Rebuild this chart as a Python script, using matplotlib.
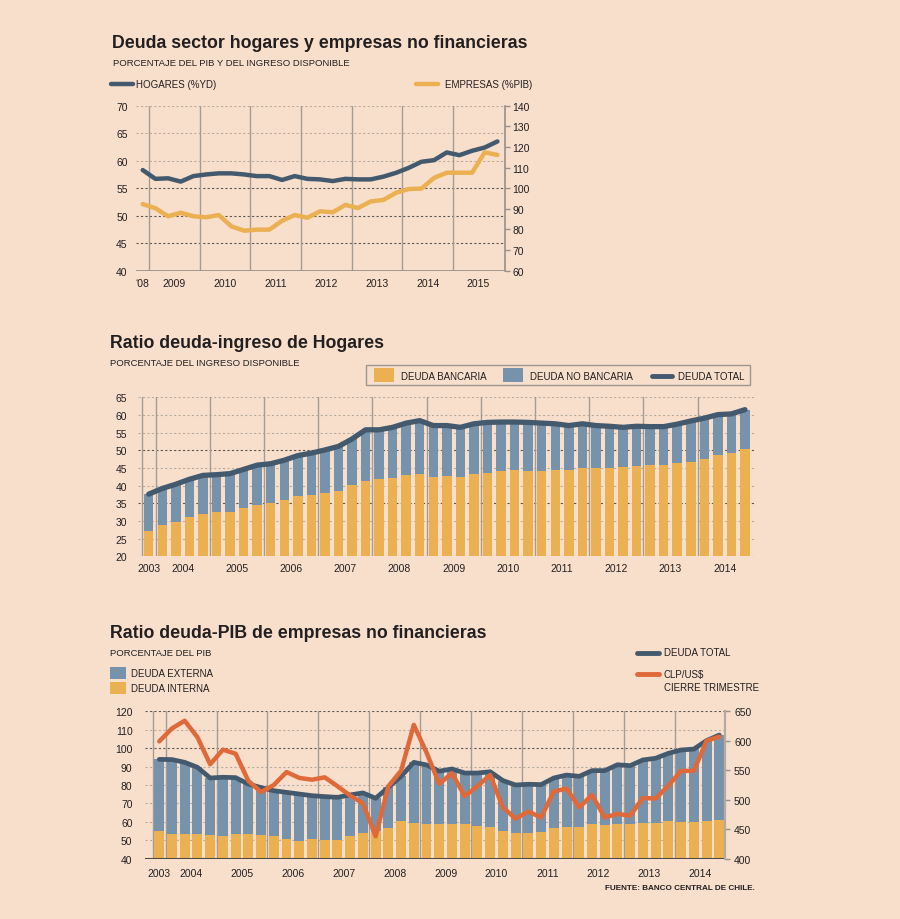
import matplotlib
matplotlib.use('Agg')
import matplotlib.pyplot as plt
from matplotlib.lines import Line2D
from matplotlib.patches import Rectangle

# colours
BG = '#f8dfcc'
DARK = '#43596d'
YELLOW = '#ebb052'
BLUE = '#7792ab'
ORANGE = '#e0693a'
GRID_V = '#a39b94'
GRID_DARK = '#5e5650'
GRID_LIGHT = '#b9ada2'
TXT = '#231f20'

SANS = 'Liberation Sans'
plt.rcParams['font.family'] = [SANS, 'DejaVu Sans']

# ---- data: chart 1 (quarterly, Q4 2008 - Q4 2015)
years1 = ['\u201808', '2009', '2010', '2011', '2012', '2013', '2014', '2015']
hogares = [58.3, 56.7, 56.8, 56.2, 57.2, 57.5, 57.7, 57.7, 57.5, 57.2, 57.2, 56.5, 57.2, 56.7, 56.6,
           56.3, 56.7, 56.6, 56.6, 57.1, 57.8, 58.7, 59.8, 60.1, 61.5, 61.0, 61.8, 62.4, 63.5]
empresas = [92.3, 90.3, 86.4, 88.1, 86.4, 85.9, 87.0, 81.5, 79.4, 79.9, 79.9, 84.2, 87.0, 85.7, 88.8,
            88.3, 91.9, 90.4, 93.6, 94.3, 97.8, 99.6, 99.8, 105.0, 107.5, 107.5, 107.5, 117.4, 116.1]

# ---- data: chart 2 (quarterly, Q4 2003 - Q4 2014)
years2 = [str(y) for y in range(2003, 2015)]
deuda_bancaria = [27.3, 28.9, 29.7, 31.0, 32.0, 32.4, 32.6, 33.8, 34.6, 35.2,
                  35.9, 37.1, 37.3, 38.0, 38.6, 40.2, 41.3, 41.9, 42.2, 43.0,
                  43.3, 42.5, 42.6, 42.5, 43.3, 43.6, 44.2, 44.4, 44.2, 44.2,
                  44.4, 44.4, 44.9, 44.9, 45.1, 45.3, 45.5, 45.7, 45.8, 46.4,
                  46.8, 47.5, 48.8, 49.2, 50.4]
deuda_total_hog = [37.6, 39.2, 40.4, 41.8, 42.9, 43.1, 43.4, 44.6, 45.8, 46.2,
                   47.2, 48.5, 49.2, 50.1, 51.1, 53.2, 55.8, 55.8, 56.5, 57.7,
                   58.4, 57.0, 57.0, 56.5, 57.5, 57.9, 58.0, 58.0, 57.9, 57.7,
                   57.5, 57.0, 57.5, 57.0, 56.8, 56.5, 56.8, 56.7, 56.7, 57.4,
                   58.3, 59.1, 60.1, 60.3, 61.5]

# ---- data: chart 3 (quarterly, Q4 2003 - Q4 2014)
deuda_interna = [55.2, 53.6, 53.6, 53.2, 53.0, 52.5, 53.4, 53.2, 53.0, 52.1,
                 50.7, 49.8, 50.5, 50.0, 50.0, 52.1, 53.9, 55.2, 56.5, 60.5,
                 59.5, 59.0, 59.0, 59.0, 58.6, 57.6, 57.2, 55.2, 54.1, 53.8,
                 54.5, 56.5, 57.4, 57.4, 58.6, 58.1, 59.0, 58.6, 59.5, 59.5,
                 60.3, 59.9, 59.9, 60.6, 60.8]
deuda_total_emp = [93.9, 93.8, 92.3, 89.6, 83.8, 84.2, 84.0, 80.5, 78.6, 76.9,
                   76.0, 75.1, 74.2, 73.7, 73.3, 74.6, 75.7, 72.8, 78.7, 84.7,
                   92.3, 90.9, 87.5, 88.7, 86.5, 86.5, 87.2, 82.4, 80.0, 80.4,
                   80.2, 83.8, 85.4, 84.7, 87.8, 87.8, 91.0, 90.5, 93.6, 94.5,
                   97.2, 99.0, 99.5, 104.1, 107.1]
clp_usd = [599, 621, 634, 606, 560, 585, 578, 532, 513, 525,
           547, 537, 534, 538, 523, 507, 494, 438, 523, 549,
           627, 580, 527, 545, 506, 523, 542, 487, 468, 480,
           470, 514, 519, 487, 508, 470, 476, 473, 503, 502,
           524, 549, 549, 600, 607]

W, H = 900, 920


def fx(px):
    return px / W


def fy(py):
    return 1 - py / H


def box(l, t, r, b):
    return [fx(l), fy(b), (r - l) / W, (b - t) / H]


fig = plt.figure(figsize=(9, 9.2), dpi=100, facecolor=BG)


def label(x, y, s, size=7, bold=False, ha='left'):
    fig.text(fx(x), fy(y), s, fontsize=size, fontweight='bold' if bold else 'normal',
             ha=ha, va='center', color=TXT)


def legend_line(x0, x1, y, color, lw=3.5):
    fig.add_artist(Line2D([fx(x0), fx(x1)], [fy(y), fy(y)], transform=fig.transFigure,
                          color=color, lw=lw, solid_capstyle='round'))


def legend_patch(x0, y0, x1, y1, color):
    fig.add_artist(Rectangle((fx(x0), fy(y1)), (x1 - x0) / W, (y1 - y0) / H,
                             transform=fig.transFigure, color=color, lw=0))


def style(ax, light, dark, vlines, xt, xl, xpad, ypad):
    ax.set_facecolor('none')
    for s in ax.spines.values():
        s.set_visible(False)
    for y in light:
        ax.axhline(y, color=GRID_LIGHT, lw=0.8, ls=(0, (2, 2)), zorder=0)
    for y in dark:
        ax.axhline(y, color=GRID_DARK, lw=0.8, ls=(0, (2, 2)), zorder=0)
    for v in vlines:
        ax.axvline(v, color=GRID_V, lw=1, zorder=0)
    ax.set_xticks(xt)
    ax.set_xticklabels(xl)
    ax.tick_params(axis='x', length=0, labelsize=7.5, labelcolor=TXT, pad=xpad)
    ax.tick_params(axis='y', length=0, labelsize=7.5, labelcolor=TXT, pad=ypad)


def style_right(ax, pad):
    ax.set_facecolor('none')
    for k, s in ax.spines.items():
        s.set_visible(k == 'right')
    ax.spines['right'].set_color('#978f88')
    ax.spines['right'].set_linewidth(1.2)
    ax.tick_params(axis='y', direction='out', length=3.5, width=1, color='#978f88',
                   labelsize=7.5, labelcolor=TXT, pad=pad)


# ================= chart 1
label(112, 44, 'Deuda sector hogares y empresas no financieras', size=12.8, bold=True)
label(113, 63, 'PORCENTAJE DEL PIB Y DEL INGRESO DISPONIBLE', size=6.8)
legend_line(111, 133, 85, DARK, lw=3.2)
label(136, 85, 'HOGARES (%YD)', size=7)
legend_line(416, 438, 85, YELLOW, lw=3.2)
label(445, 85, 'EMPRESAS (%PIB)', size=7)

ax1 = fig.add_axes(box(136, 106.7, 505, 271.7))
x1 = list(range(len(hogares)))
ax1.set_xlim(-0.53, 28.6)
ax1.set_ylim(40, 70)
ax1.set_yticks(range(40, 71, 5))
style(ax1, [60, 65, 70], [45, 50, 55], [0.5 + 4 * k for k in range(7)],
      [0] + [2.5 + 4 * k for k in range(7)], years1, xpad=5, ypad=6)
ax1.axhline(40, color='#958d86', lw=1.2, zorder=1)
ax1.plot(x1, hogares, color=DARK, lw=3.2, solid_capstyle='round', solid_joinstyle='round', zorder=3)
ax1r = ax1.twinx()
ax1r.set_ylim(60, 140)
ax1r.set_yticks(range(60, 141, 10))
style_right(ax1r, 2)
ax1r.plot(x1, empresas, color=YELLOW, lw=3.2, solid_capstyle='round', solid_joinstyle='round', zorder=3)

# ================= chart 2
label(110, 343, 'Ratio deuda-ingreso de Hogares', size=12.8, bold=True)
label(110, 364, 'PORCENTAJE DEL INGRESO DISPONIBLE', size=6.8)
fig.add_artist(Rectangle((fx(366), fy(386)), (750 - 366) / W, 20 / H, transform=fig.transFigure,
                         facecolor='none', edgecolor='#9d958e', lw=1))
legend_patch(374, 369, 394, 383, YELLOW)
label(401, 376.5, 'DEUDA BANCARIA', size=7)
legend_patch(503, 369, 523, 383, BLUE)
label(530, 376.5, 'DEUDA NO BANCARIA', size=7)
legend_line(652, 672, 376.5, DARK, lw=3.5)
label(678, 376.5, 'DEUDA TOTAL', size=7)

ax2 = fig.add_axes(box(138.3, 398.3, 755, 557.3))
x2 = list(range(len(deuda_total_hog)))
ax2.set_xlim(-0.77, 44.74)
ax2.set_ylim(20, 65)
ax2.set_yticks(range(20, 66, 5))
style(ax2, [25, 30, 40, 45, 55, 60, 65], [20, 35, 50], [-0.5] + [0.5 + 4 * k for k in range(11)],
      [0] + [2.5 + 4 * k for k in range(11)], years2, xpad=5, ypad=8)
ax2.bar(x2, deuda_total_hog, width=0.7, color=BLUE, zorder=2)
ax2.bar(x2, deuda_bancaria, width=0.7, color=YELLOW, zorder=2)
ax2.plot(x2, deuda_total_hog, color=DARK, lw=3.8, solid_capstyle='round', solid_joinstyle='round', zorder=3)

# ================= chart 3
label(110, 634, 'Ratio deuda-PIB de empresas no financieras', size=12.8, bold=True)
label(110, 654, 'PORCENTAJE DEL PIB', size=6.8)
legend_patch(110, 668, 126, 680, BLUE)
label(131, 674, 'DEUDA EXTERNA', size=7)
legend_patch(110, 683, 126, 695, YELLOW)
label(131, 689, 'DEUDA INTERNA', size=7)
legend_line(637, 659, 653.5, DARK, lw=3.5)
label(664, 653.5, 'DEUDA TOTAL', size=7)
legend_line(637, 659, 675, ORANGE, lw=3.5)
label(664, 675, 'CLP/US$', size=7)
label(664, 688.5, 'CIERRE TRIMESTRE', size=7)

ax3 = fig.add_axes(box(145, 712.3, 725, 859.7))
x3 = list(range(len(deuda_total_emp)))
ax3.set_xlim(-1.12, 44.45)
ax3.set_ylim(40, 120)
ax3.set_yticks(range(40, 121, 10))
style(ax3, [50, 60, 70, 80, 90, 110], [100, 120], [-0.5] + [0.5 + 4 * k for k in range(11)],
      [0] + [2.5 + 4 * k for k in range(11)], years2, xpad=6.5, ypad=9)
ax3.bar(x3, deuda_total_emp, width=0.78, color=BLUE, zorder=2)
ax3.bar(x3, deuda_interna, width=0.78, color=YELLOW, zorder=2)
ax3.axhline(40, color='#4d4845', lw=2.2, zorder=4)
ax3.plot(x3, deuda_total_emp, color=DARK, lw=3.4, solid_capstyle='round', solid_joinstyle='round', zorder=3)
ax3r = ax3.twinx()
ax3r.set_ylim(400, 650)
ax3r.set_yticks(range(400, 651, 50))
style_right(ax3r, 3)
ax3r.spines['right'].set_color('#b3aaa2')
ax3r.spines['right'].set_linewidth(1.6)
ax3r.plot(x3, clp_usd, color=ORANGE, lw=3.2, solid_capstyle='round', solid_joinstyle='round', zorder=4)

label(755, 889, 'FUENTE: BANCO CENTRAL DE CHILE.', size=5.9, bold=True, ha='right')

fig.savefig('out.png', dpi=100, facecolor=BG)
